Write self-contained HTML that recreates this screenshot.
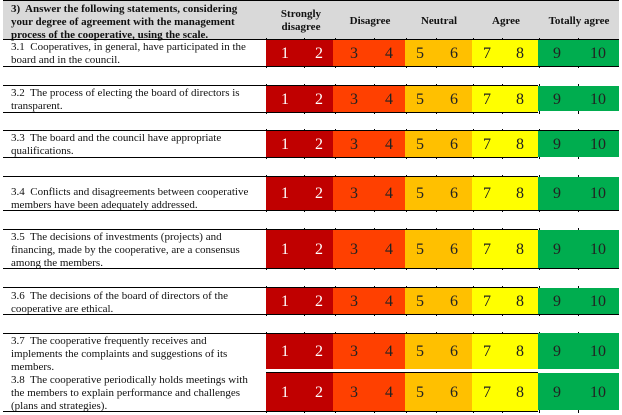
<!DOCTYPE html>
<html lang="en">
<head>
<meta charset="utf-8">
<title>Cooperative management agreement scale</title>
<style>
html,body{margin:0;padding:0;background:#fff;}
#page{position:relative;width:622px;height:415px;overflow:hidden;background:#fff;font-family:"Liberation Serif",serif;color:#111;filter:blur(0.3px);}
#header{position:absolute;left:3px;top:1px;width:616px;height:38px;background:#d9d9d9;}
.hline{position:absolute;height:1px;background:#000;}
.q,.h{position:absolute;white-space:nowrap;}
.q{left:11px;font-size:11px;line-height:13px;}
.h{font-weight:bold;font-size:11px;line-height:13px;}
.hc{text-align:center;width:70px;}
.row{position:absolute;left:0;width:622px;}
.ticks{position:absolute;left:0;top:-2px;bottom:-2px;width:622px;
background-image:linear-gradient(#000,#000),linear-gradient(#000,#000),linear-gradient(#000,#000),linear-gradient(#000,#000),linear-gradient(#000,#000),linear-gradient(#000,#000),linear-gradient(#000,#000),linear-gradient(#000,#000),linear-gradient(#000,#000),linear-gradient(#000,#000);
background-size:1px 100%;background-repeat:no-repeat;
background-position:266px 0,304px 0,335px 0,374px 0,406px 0,436px 0,473px 0,502px 0,539px 0,578px 0;}
.band{position:absolute;top:0;bottom:0;}
.red{left:266px;width:67px;background:#c00000;}
.ora{left:333px;width:72px;background:#ff4000;}
.amb{left:405px;width:67px;background:#ffc000;}
.yel{left:472px;width:66px;background:#ffff00;}
.grn{left:538px;width:81px;background:#00ad4f;}
.n{position:absolute;top:1px;bottom:0;width:30px;text-align:center;font-size:16px;display:flex;align-items:center;justify-content:center;color:#222;}
.w{color:#fff;}
.n1{left:270px}.n2{left:304px}.n3{left:339px}.n4{left:374px}.n5{left:405px}
.n6{left:439px}.n7{left:472px}.n8{left:505px}.n9{left:542px}.n10{left:583px}
</style>
</head>
<body>
<div id="page">

<div id="header"></div>
<div class="hline" style="left:3px;top:0;width:616px"></div>
<div class="h" style="left:11px;top:3px">3)&nbsp; Answer the following statements, considering<br>your degree of agreement with the management<br>process of the cooperative, using the scale.</div>
<div class="h hc" style="left:266px;top:8px">Strongly<br>disagree</div>
<div class="h hc" style="left:335px;top:15px">Disagree</div>
<div class="h hc" style="left:404px;top:15px">Neutral</div>
<div class="h hc" style="left:471px;top:15px">Agree</div>
<div class="h hc" style="left:540px;top:15px;width:78px">Totally agree</div>

<!-- 3.1 -->
<div class="row" style="top:40px;height:26px">
<div class="ticks"></div>
<div class="band red"></div><div class="band ora"></div><div class="band amb"></div><div class="band yel"></div><div class="band grn"></div>
<div class="n n1 w">1</div><div class="n n2 w">2</div><div class="n n3">3</div><div class="n n4">4</div><div class="n n5">5</div><div class="n n6">6</div><div class="n n7">7</div><div class="n n8">8</div><div class="n n9">9</div><div class="n n10">10</div>
</div>
<div class="q" style="top:41px">3.1&nbsp; Cooperatives, in general, have participated in the<br>board and in the council.</div>
<div class="hline" style="left:3px;top:39px;width:616px"></div>
<div class="hline" style="left:3px;top:66px;width:616px"></div>

<!-- 3.2 -->
<div class="row" style="top:86px;height:26px">
<div class="ticks"></div>
<div class="band red"></div><div class="band ora"></div><div class="band amb"></div><div class="band yel"></div><div class="band grn" style="bottom:1px"></div>
<div class="n n1 w">1</div><div class="n n2 w">2</div><div class="n n3">3</div><div class="n n4">4</div><div class="n n5">5</div><div class="n n6">6</div><div class="n n7">7</div><div class="n n8">8</div><div class="n n9">9</div><div class="n n10">10</div>
</div>
<div class="q" style="top:87px">3.2&nbsp; The process of electing the board of directors is<br>transparent.</div>
<div class="hline" style="left:3px;top:85px;width:535px"></div>
<div class="hline" style="left:3px;top:112px;width:535px"></div>

<!-- 3.3 -->
<div class="row" style="top:131px;height:26px">
<div class="ticks"></div>
<div class="band red"></div><div class="band ora"></div><div class="band amb"></div><div class="band yel"></div><div class="band grn"></div>
<div class="n n1 w">1</div><div class="n n2 w">2</div><div class="n n3">3</div><div class="n n4">4</div><div class="n n5">5</div><div class="n n6">6</div><div class="n n7">7</div><div class="n n8">8</div><div class="n n9">9</div><div class="n n10">10</div>
</div>
<div class="q" style="top:132px">3.3&nbsp; The board and the council have appropriate<br>qualifications.</div>
<div class="hline" style="left:3px;top:130px;width:616px"></div>
<div class="hline" style="left:3px;top:157px;width:535px"></div>

<!-- 3.4 -->
<div class="row" style="top:177px;height:33px">
<div class="ticks"></div>
<div class="band red"></div><div class="band ora"></div><div class="band amb"></div><div class="band yel"></div><div class="band grn"></div>
<div class="n n1 w">1</div><div class="n n2 w">2</div><div class="n n3">3</div><div class="n n4">4</div><div class="n n5">5</div><div class="n n6">6</div><div class="n n7">7</div><div class="n n8">8</div><div class="n n9">9</div><div class="n n10">10</div>
</div>
<div class="q" style="top:186px">3.4&nbsp; Conflicts and disagreements between cooperative<br>members have been adequately addressed.</div>
<div class="hline" style="left:3px;top:176px;width:535px"></div>
<div class="hline" style="left:3px;top:210px;width:616px"></div>

<!-- 3.5 -->
<div class="row" style="top:230px;height:38px">
<div class="ticks"></div>
<div class="band red"></div><div class="band ora"></div><div class="band amb"></div><div class="band yel"></div><div class="band grn"></div>
<div class="n n1 w">1</div><div class="n n2 w">2</div><div class="n n3">3</div><div class="n n4">4</div><div class="n n5">5</div><div class="n n6">6</div><div class="n n7">7</div><div class="n n8">8</div><div class="n n9">9</div><div class="n n10">10</div>
</div>
<div class="q" style="top:231px">3.5&nbsp; The decisions of investments (projects) and<br>financing, made by the cooperative, are a consensus<br>among the members.</div>
<div class="hline" style="left:3px;top:229px;width:535px"></div>
<div class="hline" style="left:3px;top:268px;width:616px"></div>

<!-- 3.6 -->
<div class="row" style="top:288px;height:26px">
<div class="ticks"></div>
<div class="band red"></div><div class="band ora"></div><div class="band amb"></div><div class="band yel"></div><div class="band grn"></div>
<div class="n n1 w">1</div><div class="n n2 w">2</div><div class="n n3">3</div><div class="n n4">4</div><div class="n n5">5</div><div class="n n6">6</div><div class="n n7">7</div><div class="n n8">8</div><div class="n n9">9</div><div class="n n10">10</div>
</div>
<div class="q" style="top:290px">3.6&nbsp; The decisions of the board of directors of the<br>cooperative are ethical.</div>
<div class="hline" style="left:3px;top:287px;width:535px"></div>
<div class="hline" style="left:3px;top:314px;width:616px"></div>

<!-- 3.7 -->
<div class="row" style="top:334px;height:35px">
<div class="ticks" style="bottom:0"></div>
<div class="band red"></div><div class="band ora"></div><div class="band amb"></div><div class="band yel"></div><div class="band grn" style="top:-1px"></div>
<div class="n n1 w">1</div><div class="n n2 w">2</div><div class="n n3">3</div><div class="n n4">4</div><div class="n n5">5</div><div class="n n6">6</div><div class="n n7">7</div><div class="n n8">8</div><div class="n n9">9</div><div class="n n10">10</div>
</div>
<div class="q" style="top:335px">3.7&nbsp; The cooperative frequently receives and<br>implements the complaints and suggestions of its<br>members.</div>
<div class="hline" style="left:3px;top:333px;width:535px"></div>

<!-- 3.8 -->
<div class="row" style="top:373px;height:38px">
<div class="ticks" style="top:0"></div>
<div class="band red"></div><div class="band ora"></div><div class="band amb"></div><div class="band yel"></div><div class="band grn" style="bottom:1px"></div>
<div class="n n1 w">1</div><div class="n n2 w">2</div><div class="n n3">3</div><div class="n n4">4</div><div class="n n5">5</div><div class="n n6">6</div><div class="n n7">7</div><div class="n n8">8</div><div class="n n9">9</div><div class="n n10">10</div>
</div>
<div class="q" style="top:374px">3.8&nbsp; The cooperative periodically holds meetings with<br>the members to explain performance and challenges<br>(plans and strategies).</div>
<div class="hline" style="left:266px;top:372px;width:272px"></div>
<div class="hline" style="left:3px;top:411px;width:535px"></div>

</div>
</body>
</html>
